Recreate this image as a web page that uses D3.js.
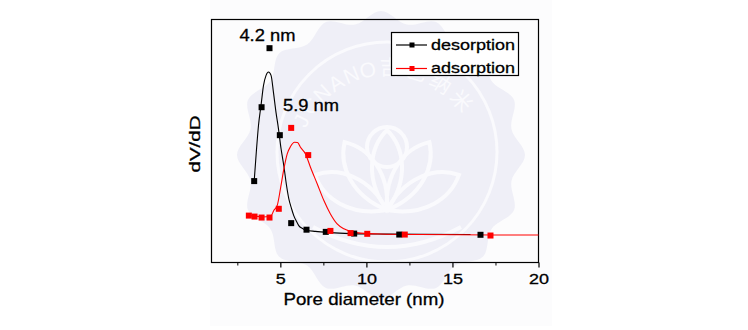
<!DOCTYPE html>
<html>
<head>
<meta charset="utf-8">
<script src="https://cdn.jsdelivr.net/npm/d3@7"></script>
<style>
  html, body { margin: 0; padding: 0; background: #ffffff; }
  svg { display: block; }
  text.lbl { font-family: Arial, "Liberation Sans", sans-serif; fill: #000; stroke: #000; stroke-width: 0.3px; }
</style>
</head>
<body>
<svg id="chart" width="748" height="330"></svg>
<script>
// Pore size distribution (BJH) - desorption vs adsorption branches
const xTicks = [5, 10, 15, 20];
const xMinorTicks = [2.5, 7.5, 12.5, 17.5];

// measured points: pore diameter (nm) and dV/dD (arb. units)
const desX = [3.48, 3.91, 4.37, 4.97, 5.63, 6.52, 7.64, 9.29, 11.91, 16.63];
const desY = [33.5, 63.9, 88.2, 52.4, 16.2, 13.5, 12.6, 11.9, 11.5, 11.4];
const adsX = [3.17, 3.50, 3.91, 4.37, 4.91, 5.63, 6.62, 7.91, 9.08, 10.05, 12.23, 17.21];
const adsY = [19.3, 18.9, 18.5, 18.5, 22.1, 55.4, 44.2, 13.0, 12.1, 11.8, 11.5, 11.1];

// fitted distribution curves
const desFitX = [3.48, 3.61, 3.73, 3.89, 4.02, 4.17, 4.31, 4.46, 4.60, 4.75, 4.89, 5.04, 5.20, 5.36, 5.49, 5.65, 5.78, 5.94, 6.07, 6.29, 6.46, 7.04, 7.91, 9.08, 10.65, 13.14, 16.05];
const desFitY = [33.5, 46.1, 56.4, 65.4, 72.8, 77.0, 78.4, 77.0, 70.0, 61.7, 55.1, 46.9, 39.9, 31.7, 26.3, 22.2, 19.3, 16.9, 15.2, 14.0, 13.4, 12.8, 12.3, 11.9, 11.7, 11.6, 11.5];
const adsFitX = [3.17, 3.56, 3.96, 4.43, 4.62, 4.82, 5.01, 5.20, 5.40, 5.59, 5.82, 6.00, 6.17, 6.46, 6.75, 7.14, 7.53, 7.91, 8.30, 8.69, 9.08, 9.66, 10.82, 13.14, 20.0];
const adsFitY = [19.3, 19.1, 18.7, 18.9, 21.4, 23.5, 30.5, 38.3, 44.7, 47.7, 49.5, 49.4, 47.4, 44.7, 39.2, 32.4, 25.5, 20.0, 15.9, 13.9, 12.8, 12.1, 11.7, 11.5, 11.3];

const peakLabels = ["4.2 nm", "5.9 nm"];
const peakLabelX = [4.25, 6.78];
const peakLabelY = [91, 62.5];

const seriesNames = ["desorption", "adsorption"];
const seriesColors = ["#000000", "#ff0000"];

const svg = d3.select("#chart");
const plot = { left: 211.5, right: 538.5, top: 19.5, bottom: 262.5 };

const x = d3.scaleLinear().domain([1, 20]).range([plot.left, plot.right]);
const y = d3.scaleLinear().domain([0, 100]).range([plot.bottom, plot.top]);

// faint page panel
svg.append("rect").attr("x", 210).attr("y", 0).attr("width", 342).attr("height", 326)
  .attr("fill", "#fcfcfd");

// watermark emblem behind the chart
const wm = svg.append("g").attr("transform", "translate(381,155)");
const bumps = 16;
const scallop = d3.range(bumps * 2).map(i => [i * Math.PI / bumps, i % 2 === 0 ? 144 : 133]);
wm.append("path")
  .attr("d", d3.lineRadial().curve(d3.curveCardinalClosed)(scallop))
  .attr("fill", "#efeff7");
wm.append("circle").attr("cx", 6).attr("cy", -3).attr("r", 110)
  .attr("fill", "none").attr("stroke", "#fafafd").attr("stroke-width", 3);
// lotus petals
const petal = "M0,0 C-22,-30 -18,-62 0,-80 C18,-62 22,-30 0,0 Z";
[-64, -32, 0, 32, 64].forEach(a => {
  wm.append("path").attr("d", petal)
    .attr("transform", `translate(6,55) rotate(${a})`)
    .attr("fill", "none").attr("stroke", "#fafafd").attr("stroke-width", 4);
});
wm.append("circle").attr("cx", 6).attr("cy", -8).attr("r", 20)
  .attr("fill", "none").attr("stroke", "#fafafd").attr("stroke-width", 4);
wm.append("path").attr("d", "M-68,72 Q6,112 80,72")
  .attr("fill", "none").attr("stroke", "#fafafd").attr("stroke-width", 4);

// emblem lettering set glyph by glyph along the ring
const wmChars = Array.from("JCNANO吉巴纳米");
const ringCx = 7, ringCy = 10, ringR = 90;
let arcPos = 0;
const startAng = -158 * Math.PI / 180;
wmChars.forEach(ch => {
  const w = /[A-Z]/.test(ch) ? 16 : 25;
  const a = startAng + (arcPos + w / 2) / ringR;
  arcPos += w;
  const cx = ringCx + ringR * Math.cos(a), cy = ringCy + ringR * Math.sin(a);
  wm.append("text")
    .attr("transform", `translate(${cx},${cy}) rotate(${a * 180 / Math.PI + 90})`)
    .attr("text-anchor", "middle")
    .style("font-family", "Arial, 'Noto Sans CJK SC', sans-serif")
    .style("font-size", "21px").style("fill", "#fafafd")
    .text(ch);
});

// frame
svg.append("rect")
  .attr("x", plot.left).attr("y", plot.top)
  .attr("width", plot.right - plot.left).attr("height", plot.bottom - plot.top)
  .attr("fill", "none").attr("stroke", "#000").attr("stroke-width", 1.2);

// x axis
const xAxis = d3.axisBottom(x).tickValues(xTicks).tickSize(5).tickFormat(d3.format("d"));
const gx = svg.append("g").attr("transform", `translate(0,${plot.bottom})`).call(xAxis);
gx.attr("font-family", null).attr("font-size", null);
gx.select(".domain").remove();
gx.selectAll(".tick line").attr("stroke", "#000").attr("stroke-width", 1.2);
gx.selectAll(".tick text")
  .attr("class", "lbl")
  .attr("y", 11).attr("dy", "0.71em")
  .style("font-size", "15px")
  .attr("textLength", d => (String(d).length === 1 ? 10 : 20))
  .attr("lengthAdjust", "spacingAndGlyphs");
const gxm = svg.append("g").attr("transform", `translate(0,${plot.bottom})`)
  .call(d3.axisBottom(x).tickValues(xMinorTicks).tickSize(3).tickFormat(""));
gxm.select(".domain").remove();
gxm.selectAll(".tick line").attr("stroke", "#000").attr("stroke-width", 1);

// axis titles
svg.append("text").attr("class", "lbl")
  .attr("x", 364).attr("y", 305)
  .attr("text-anchor", "middle")
  .style("font-size", "17px")
  .attr("textLength", 161).attr("lengthAdjust", "spacingAndGlyphs")
  .text("Pore diameter (nm)");
svg.append("text").attr("class", "lbl")
  .attr("transform", "translate(200,144) rotate(-90)")
  .attr("text-anchor", "middle")
  .style("font-size", "15px")
  .attr("textLength", 57).attr("lengthAdjust", "spacingAndGlyphs")
  .text("dV/dD");

// fitted curves
const line = d3.line().x(d => x(d[0])).y(d => y(d[1])).curve(d3.curveMonotoneX);
const fits = [d3.zip(desFitX, desFitY), d3.zip(adsFitX, adsFitY)];
fits.forEach((f, i) => {
  svg.append("path").datum(f).attr("d", line)
    .attr("fill", "none").attr("stroke", seriesColors[i]).attr("stroke-width", 1.1);
});

// measured points
const pts = [d3.zip(desX, desY), d3.zip(adsX, adsY)];
const sq = 6;
pts.forEach((p, i) => {
  svg.append("g").selectAll("rect").data(p).join("rect")
    .attr("x", d => x(d[0]) - sq / 2).attr("y", d => y(d[1]) - sq / 2)
    .attr("width", sq).attr("height", sq)
    .attr("fill", seriesColors[i]);
});

// peak labels
peakLabels.forEach((t, i) => {
  svg.append("text").attr("class", "lbl")
    .attr("x", x(peakLabelX[i])).attr("y", y(peakLabelY[i]))
    .attr("text-anchor", "middle")
    .style("font-size", "16.5px")
    .attr("textLength", 56).attr("lengthAdjust", "spacingAndGlyphs")
    .text(t);
});

// legend
const lg = svg.append("g");
lg.append("rect").attr("x", 391.5).attr("y", 32.5).attr("width", 127).attr("height", 43)
  .attr("fill", "#fff").attr("stroke", "#000").attr("stroke-width", 1.2);
seriesNames.forEach((n, i) => {
  const ly = 45 + i * 23.5;
  lg.append("line").attr("x1", 396).attr("x2", 427).attr("y1", ly).attr("y2", ly)
    .attr("stroke", seriesColors[i]).attr("stroke-width", 1.2);
  lg.append("rect").attr("x", 409.5).attr("y", ly - 2.5).attr("width", 5).attr("height", 5)
    .attr("fill", seriesColors[i]);
  lg.append("text").attr("class", "lbl").attr("x", 431).attr("y", ly + 4.8)
    .style("font-size", "15.5px")
    .attr("textLength", 84).attr("lengthAdjust", "spacingAndGlyphs")
    .text(n);
});
</script>
</body>
</html>
